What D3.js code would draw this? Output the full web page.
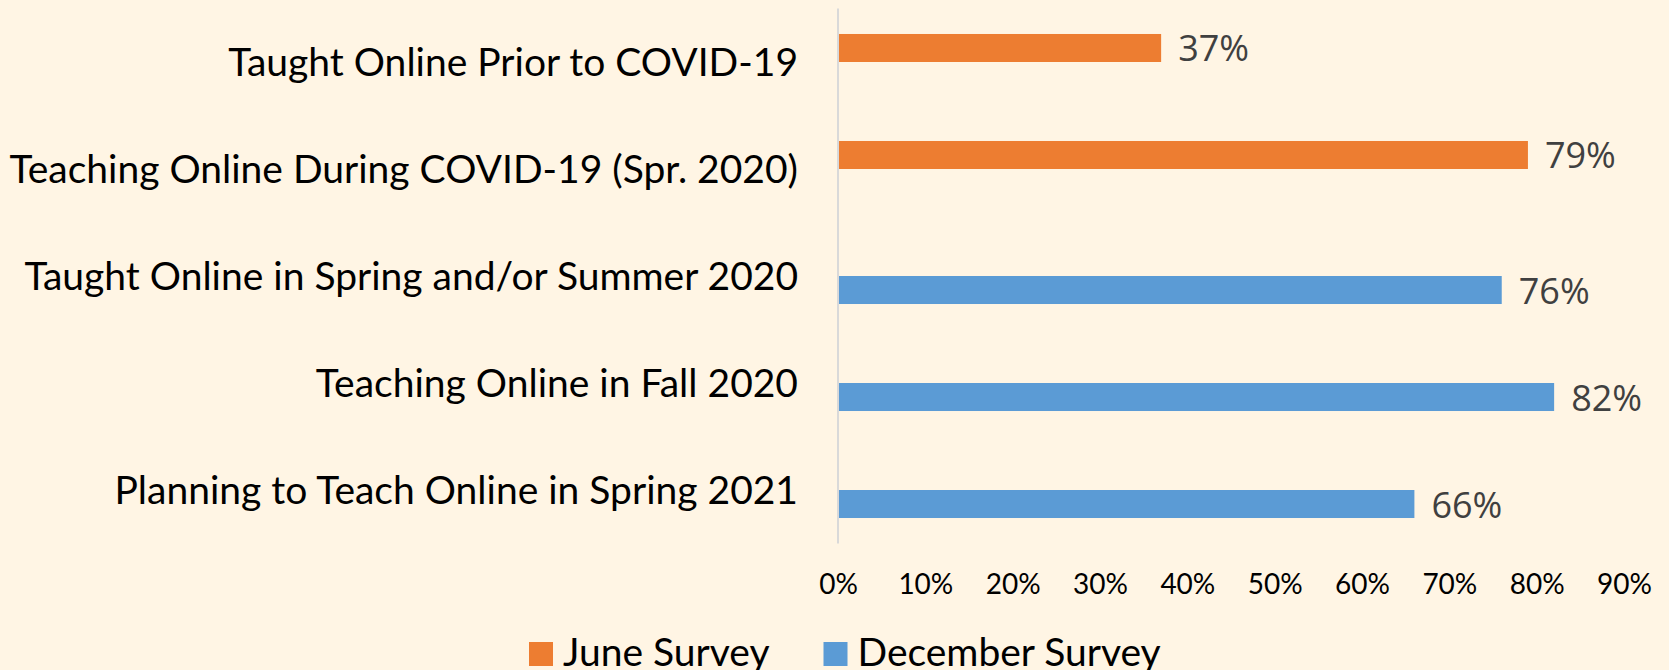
<!doctype html>
<html lang="en">
<head>
    <meta charset="UTF-8">
    <title>Teaching Online Survey</title>
    <style>
        html, body { margin: 0; padding: 0; background: #FFF5E4; }
        svg { display: block; }
    </style>
</head>
<body>
<svg id="chart" width="1669" height="670"></svg>
<script src="https://d3js.org/d3.v7.min.js"></script>
<script>
    let categories = [
        "Taught Online Prior to COVID-19",
        "Teaching Online During COVID-19 (Spr. 2020)",
        "Taught Online in Spring and/or Summer 2020",
        "Teaching Online in Fall 2020",
        "Planning to Teach Online in Spring 2021"
    ];
    let seriesNames = ["June Survey", "December Survey"];
    let juneValues = [0.37, 0.79, null, null, null];
    let decemberValues = [null, null, 0.76, 0.82, 0.66];
    let tickValues = [0, 0.1, 0.2, 0.3, 0.4, 0.5, 0.6, 0.7, 0.8, 0.9];

    const colors = {"June Survey": "#ED7D31", "December Survey": "#5B9BD5"};
    const labelFont = "Lato, 'Open Sans', sans-serif";

    let svg = d3.select("#chart"),
        width = +svg.attr("width"),
        height = +svg.attr("height");

    svg.append("rect").attr("width", width).attr("height", height).attr("fill", "#FFF5E4");

    let x = d3.scaleLinear()
        .domain([0, 0.9])
        .range([838, 1624]);

    let y = d3.scaleBand()
        .domain(categories)
        .range([8.5, 543.5]);

    let ySeries = d3.scaleBand()
        .domain(seriesNames)
        .range([0, y.bandwidth()])
        .paddingOuter(0.91);

    let rows = [];
    categories.forEach(function (c, i) {
        if (juneValues[i] != null) rows.push({cat: c, series: "June Survey", value: juneValues[i]});
        if (decemberValues[i] != null) rows.push({cat: c, series: "December Survey", value: decemberValues[i]});
    });

    // axis line
    svg.append("line")
        .attr("x1", x(0)).attr("x2", x(0))
        .attr("y1", y.range()[0]).attr("y2", y.range()[1])
        .attr("stroke", "#D9D9D9")
        .attr("stroke-width", 2);

    // bars
    svg.append("g")
        .selectAll("rect")
        .data(rows)
        .enter().append("rect")
        .attr("x", x(0) + 1)
        .attr("y", (d) => y(d.cat) + ySeries(d.series))
        .attr("width", (d) => x(d.value) - x(0) - 1)
        .attr("height", ySeries.bandwidth())
        .attr("fill", (d) => colors[d.series]);

    // value labels
    svg.append("g")
        .selectAll("text")
        .data(rows)
        .enter().append("text")
        .attr("x", (d) => x(d.value) + 17)
        .attr("y", (d) => y(d.cat) + ySeries(d.series) + ySeries.bandwidth() / 2 + 13.5)
        .attr("font-family", "'Open Sans', sans-serif")
        .attr("font-size", "36px")
        .attr("fill", "#404040")
        .text((d) => Math.round(d.value * 100) + "%");

    // category labels
    svg.append("g")
        .attr("transform", "translate(798,0)")
        .call(d3.axisLeft(y).tickSize(0).tickPadding(0))
        .call((g) => g.select(".domain").remove())
        .selectAll("text")
        .attr("font-family", labelFont)
        .attr("font-size", "39px")
        .attr("fill", "#000")
        .attr("dy", null)
        .attr("y", 14);

    // x axis tick labels
    svg.append("g")
        .attr("transform", "translate(0,594)")
        .call(d3.axisBottom(x).tickValues(tickValues).tickFormat(d3.format(".0%")).tickSize(0).tickPadding(0))
        .call((g) => g.select(".domain").remove())
        .selectAll("text")
        .attr("font-family", labelFont)
        .attr("font-size", "28px")
        .attr("fill", "#000")
        .attr("dy", null)
        .attr("y", 0);

    // legend
    let legend = svg.append("g").attr("transform", "translate(529,642)");
    let lx = 0;
    seriesNames.forEach(function (name) {
        let item = legend.append("g").attr("transform", "translate(" + lx + ",0)");
        item.append("rect").attr("width", 24).attr("height", 24).attr("fill", colors[name]);
        let t = item.append("text")
            .attr("x", 34)
            .attr("y", 24)
            .attr("font-family", labelFont)
            .attr("font-size", "39px")
            .attr("fill", "#000")
            .text(name);
        lx += 34 + t.node().getComputedTextLength() + 54;
    });
</script>
</body>
</html>
